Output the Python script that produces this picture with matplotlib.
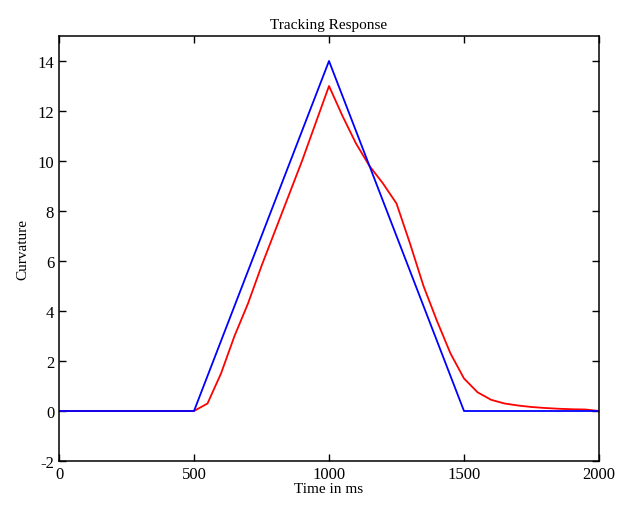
import matplotlib
matplotlib.use("Agg")
import matplotlib.pyplot as plt

# Data
t_ref = [0, 500, 1000, 1500, 2000]
ref_curv = [0, 0, 14, 0, 0]

t_resp = [0, 500, 550, 600, 650, 700, 750, 800, 850, 900, 950, 1000,
          1050, 1100, 1150, 1200, 1250, 1300, 1350, 1400, 1450, 1500,
          1550, 1600, 1650, 1700, 1750, 1800, 1850, 1900, 1950, 2000]
resp_curv = [0, 0, 0.3, 1.5, 3.0, 4.3, 5.8, 7.2, 8.6, 10.0, 11.5, 13.0,
             11.8, 10.7, 9.8, 9.1, 8.3, 6.7, 5.0, 3.6, 2.3, 1.3,
             0.75, 0.45, 0.3, 0.22, 0.16, 0.12, 0.09, 0.07, 0.06, 0.0]

xticks = [0, 500, 1000, 1500, 2000]
yticks = [-2, 0, 2, 4, 6, 8, 10, 12, 14]

plt.rcParams['font.family'] = ['Liberation Serif', 'DejaVu Serif']
plt.rcParams['axes.unicode_minus'] = False

fig = plt.figure(figsize=(6.17, 5.06), dpi=100)
ax = fig.add_axes([59/617, 1 - 462/506, 540/617, 425/506])

ax.plot(t_resp, resp_curv, color=(1, 0, 0), lw=1.3)
ax.plot(t_ref, ref_curv, color=(0, 0, 1), lw=1.3)

ax.set_xlim(0, 2000)
ax.set_ylim(-2, 15)
ax.set_xticks(xticks)
ax.set_yticks(yticks)
ax.tick_params(direction='in', top=True, right=True, labelsize=12, length=5, width=1)
for s in ax.spines.values():
    s.set_linewidth(1.1)

ax.set_title('Tracking Response', fontsize=11, pad=6)
ax.set_xlabel('Time in ms', fontsize=11, labelpad=0)
ax.set_ylabel('Curvature', fontsize=11, labelpad=6)

fig.savefig('out.png', dpi=100)
